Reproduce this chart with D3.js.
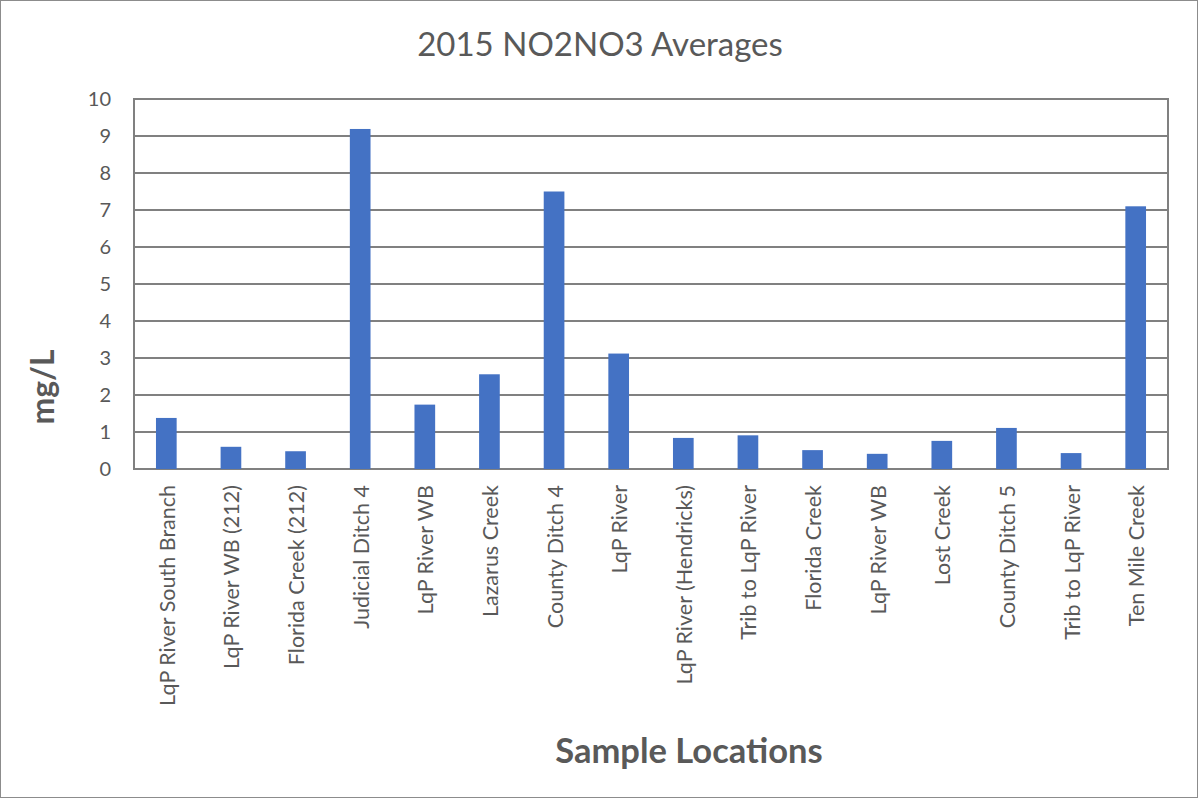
<!DOCTYPE html>
<html>
<head>
<meta charset="utf-8">
<script src="https://cdn.jsdelivr.net/npm/d3@7"></script>
<style>
  body { margin: 0; background: #fff; }
  svg text { font-family: Lato, "Open Sans", sans-serif; fill: #595959; }
</style>
</head>
<body>
<svg id="chart" width="1198" height="798"></svg>
<script>
const locations = [
    "LqP River South Branch", "LqP River WB (212)", "Florida Creek (212)", "Judicial Ditch 4",
    "LqP River WB", "Lazarus Creek", "County Ditch 4", "LqP River",
    "LqP River (Hendricks)", "Trib to LqP River", "Florida Creek", "LqP River WB",
    "Lost Creek", "County Ditch 5", "Trib to LqP River", "Ten Mile Creek"
];
const averages = [1.38, 0.60, 0.48, 9.19, 1.74, 2.56, 7.50, 3.12, 0.84, 0.91, 0.51, 0.41, 0.76, 1.11, 0.43, 7.10];
const yTicks = [0, 1, 2, 3, 4, 5, 6, 7, 8, 9, 10];

const width = 1198;
const height = 798;
const margin = {top: 99, right: 30, bottom: 329, left: 134};

const svg = d3.select("#chart");

// outer chart border
svg.append("rect")
    .attr("x", 0.5).attr("y", 0.5)
    .attr("width", width - 1).attr("height", height - 1)
    .attr("fill", "#fff")
    .attr("stroke", "#8c8c8c");

const data = locations.map((name, i) => ({id: i, name, value: averages[i]}));

const x = d3.scaleBand()
    .domain(data.map(d => d.id))
    .range([margin.left, width - margin.right])
    .paddingInner(0.68)
    .paddingOuter(0.34);

const y = d3.scaleLinear()
    .domain([0, 10])
    .range([height - margin.bottom, margin.top]);

// gridlines
svg.append("g")
    .selectAll("line")
    .data(yTicks)
    .join("line")
    .attr("x1", margin.left)
    .attr("x2", width - margin.right)
    .attr("y1", d => y(d))
    .attr("y2", d => y(d))
    .attr("stroke", "#808080")
    .attr("stroke-width", 2);

// plot area border
svg.append("rect")
    .attr("x", margin.left)
    .attr("y", margin.top)
    .attr("width", width - margin.right - margin.left)
    .attr("height", height - margin.bottom - margin.top)
    .attr("fill", "none")
    .attr("stroke", "#808080")
    .attr("stroke-width", 2);

// bars
svg.append("g")
    .selectAll("rect")
    .data(data)
    .join("rect")
    .attr("x", d => x(d.id))
    .attr("y", d => y(d.value))
    .attr("width", x.bandwidth())
    .attr("height", d => y(0) - y(d.value))
    .attr("fill", "#4472c4");

// y axis labels
const yAxis = svg.append("g")
    .attr("transform", `translate(${margin.left - 23},0)`)
    .call(d3.axisLeft(y).tickValues(yTicks).tickSize(0).tickPadding(0));
yAxis.select(".domain").remove();
yAxis.selectAll("text")
    .style("font-size", "20px")
    .attr("fill", "#595959");

// x axis labels
const xAxis = svg.append("g")
    .attr("transform", `translate(0,${height - margin.bottom})`)
    .call(d3.axisBottom(x).tickSize(0).tickFormat(i => locations[i]));
xAxis.select(".domain").remove();
xAxis.selectAll("text")
    .attr("transform", "rotate(-90)")
    .attr("text-anchor", "end")
    .attr("x", -16)
    .attr("y", 1)
    .attr("dy", "0.35em")
    .style("font-size", "21.5px")
    .attr("fill", "#595959");

// title
svg.append("text")
    .attr("x", 600)
    .attr("y", 56)
    .attr("text-anchor", "middle")
    .style("font-size", "33px")
    .text("2015 NO2NO3 Averages");

// axis titles
svg.append("text")
    .attr("x", 689)
    .attr("y", 763)
    .attr("text-anchor", "middle")
    .style("font-size", "34.5px")
    .style("font-weight", "bold")
    .text("Sample Locations");

svg.append("text")
    .attr("transform", "translate(54,387) rotate(-90)")
    .attr("text-anchor", "middle")
    .style("font-size", "32px")
    .style("font-weight", "bold")
    .text("mg/L");
</script>
</body>
</html>
